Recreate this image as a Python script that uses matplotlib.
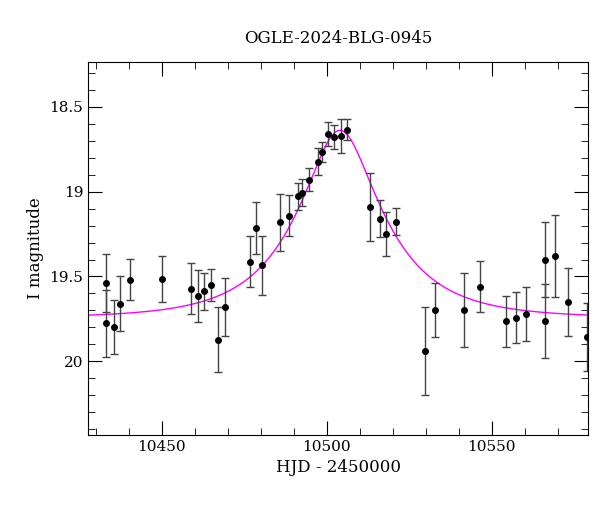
import numpy as np
import matplotlib
matplotlib.use("Agg")
import matplotlib.pyplot as plt
from matplotlib.ticker import MultipleLocator

# photometry
hjd = [10433.2, 10433.2, 10435.4, 10437.3, 10440.3, 10450.0, 10458.9, 10460.9,
       10462.8, 10464.8, 10467.1, 10469.0, 10476.7, 10478.5, 10480.5, 10485.8,
       10488.5, 10491.3, 10492.5, 10494.5, 10497.3, 10498.6, 10500.4, 10502.3,
       10504.2, 10506.2, 10513.1, 10516.2, 10518.1, 10521.0, 10529.9, 10532.9,
       10541.7, 10546.5, 10554.3, 10557.5, 10560.3, 10566.3, 10566.3, 10569.3,
       10573.2, 10579.0]
mag = [19.537, 19.777, 19.800, 19.660, 19.518, 19.514, 19.571, 19.614,
       19.587, 19.551, 19.872, 19.680, 19.412, 19.214, 19.435, 19.180,
       19.141, 19.028, 19.006, 18.930, 18.824, 18.767, 18.660, 18.678,
       18.670, 18.634, 19.092, 19.159, 19.250, 19.178, 19.940, 19.698,
       19.698, 19.560, 19.765, 19.743, 19.722, 19.400, 19.763, 19.380,
       19.649, 19.855]
err = [0.170, 0.195, 0.160, 0.160, 0.120, 0.135, 0.150, 0.155,
       0.110, 0.095, 0.190, 0.170, 0.150, 0.152, 0.172, 0.168,
       0.120, 0.080, 0.080, 0.068, 0.080, 0.060, 0.070, 0.072,
       0.100, 0.060, 0.200, 0.110, 0.130, 0.080, 0.260, 0.160,
       0.220, 0.150, 0.150, 0.150, 0.160, 0.220, 0.220, 0.240,
       0.200, 0.200]

# PSPL model parameters
t0, tE, u0, I0 = 10504.0, 25.0, 0.38, 19.745

t = np.linspace(10420, 10590, 800)
u = np.sqrt(u0**2 + ((t - t0) / tE)**2)
A = (u**2 + 2) / (u * np.sqrt(u**2 + 4))
model = I0 - 2.5 * np.log10(A)

plt.rcParams["font.family"] = "DejaVu Serif"
fig = plt.figure(figsize=(6.0, 5.12), dpi=100)
ax = fig.add_axes([88/600, 1-435/512, 500/600, 373/512])

ax.plot(t, model, color="#ff00ff", lw=1.0, zorder=1)
ax.errorbar(hjd, mag, yerr=err, fmt="o", ms=4, color="black",
            ecolor="#444444", elinewidth=1.0, capsize=3, capthick=1.0, zorder=2)

ax.set_xlim(10427.6, 10579.2)
ax.set_ylim(20.435, 18.235)
ax.xaxis.set_major_locator(MultipleLocator(50))
ax.xaxis.set_minor_locator(MultipleLocator(10))
ax.yaxis.set_major_locator(MultipleLocator(0.5))
ax.yaxis.set_minor_locator(MultipleLocator(0.1))
ax.yaxis.set_major_formatter(matplotlib.ticker.FuncFormatter(lambda v, p: f"{v:g}"))
ax.tick_params(which="both", direction="in", top=True, right=True, labelsize=11)
ax.tick_params(which="major", length=10)
ax.tick_params(which="minor", length=5)

ax.set_xlabel("HJD - 2450000", fontsize=12)
ax.set_ylabel("I magnitude", fontsize=12)
ax.set_title("OGLE-2024-BLG-0945", fontsize=12, pad=14)

fig.savefig("out.png", dpi=100)
